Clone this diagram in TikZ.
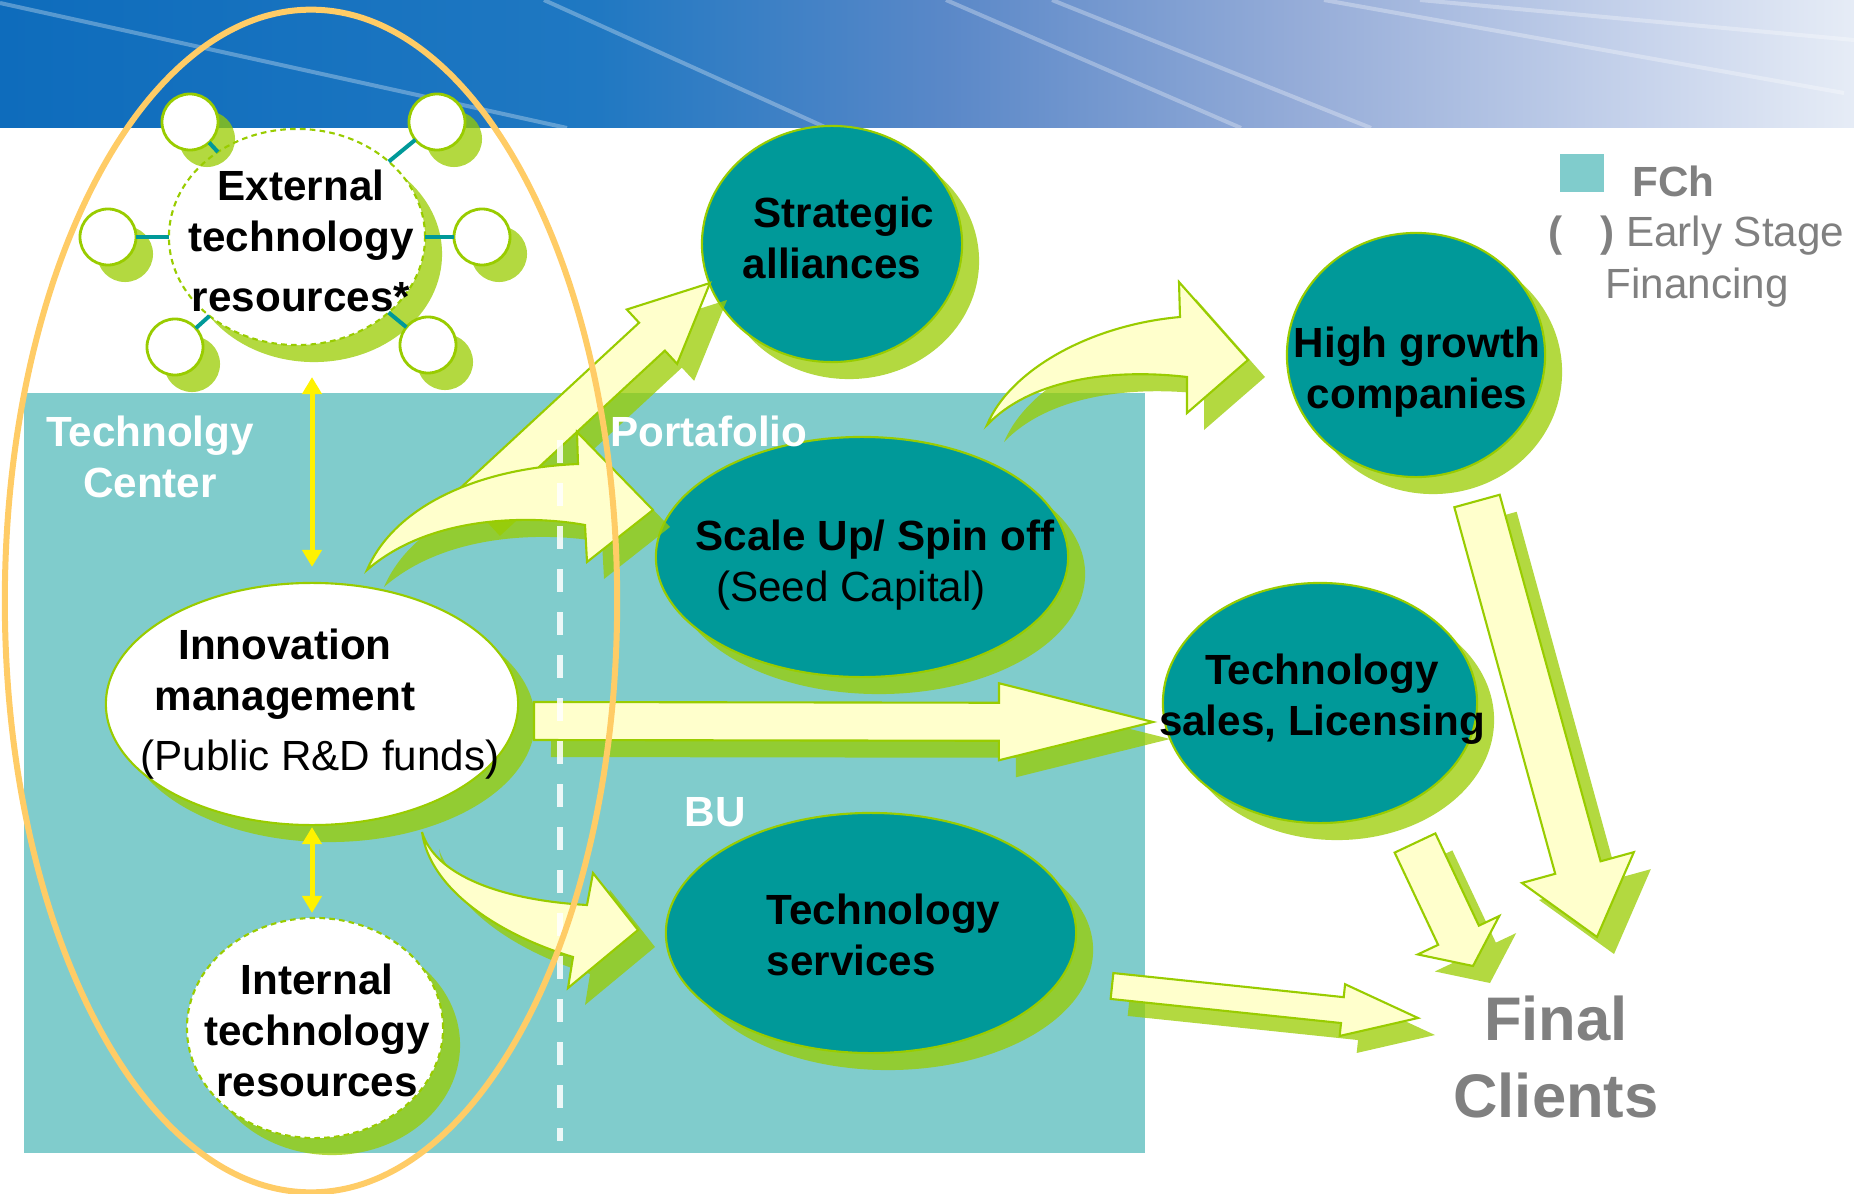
\documentclass[tikz,border=0pt]{standalone}
\usepackage{fontspec}
\setmainfont{Liberation Sans}
\usetikzlibrary{shapes.geometric,shadows,calc,arrows.meta}

\definecolor{fchteal}{HTML}{009999}
\definecolor{fchlight}{HTML}{80CCCC}
\definecolor{leaf}{HTML}{99CC00}
\definecolor{cream}{HTML}{FFFFCC}
\definecolor{amber}{HTML}{FFCC66}
\definecolor{greytxt}{HTML}{808080}
\definecolor{bannerA}{HTML}{0E6CBC}
\definecolor{bannerB}{HTML}{1F78C2}
\definecolor{bannerC}{HTML}{5A88C8}
\definecolor{bannerD}{HTML}{95ACD8}
\definecolor{bannerE}{HTML}{C8D4EC}
\definecolor{bannerF}{HTML}{E6ECF6}

\pgfdeclarehorizontalshading{bannershade}{100bp}{color(0bp)=(bannerA); color(25bp)=(bannerA);
  color(41bp)=(bannerB); color(50.5bp)=(bannerC); color(60bp)=(bannerD);
  color(69.5bp)=(bannerE); color(75bp)=(bannerF); color(100bp)=(bannerF)}

% block shape with its green shadow
\newcommand{\shadedblock}[1]{%
  \fill[arrowshadow,transform canvas={shift={(0.17cm,-0.17cm)}}] #1;
  \filldraw[arrowbody] #1;}
% straight block arrow: tail, tip, shaft half width, head half width, head length
\newcommand{\straightblock}[5]{%
  \coordinate (hb) at ($(#2)!#5!(#1)$);
  \shadedblock{($(#1)!#3!90:(#2)$) -- ($(hb)!#3!90:(#2)$) -- ($(hb)!#4!90:(#2)$) -- (#2)
    -- ($(hb)!#4!-90:(#2)$) -- ($(hb)!#3!-90:(#2)$) -- ($(#1)!#3!-90:(#2)$) -- cycle}}

\begin{document}
\begin{tikzpicture}[x=0.01cm,y=-0.01cm,
  oval/.style={ellipse,draw=leaf,line width=0.6pt,inner sep=0pt,outer sep=0pt,
    drop shadow={shadow xshift=0.17cm,shadow yshift=-0.17cm,fill=leaf,opacity=0.75}},
  tealoval/.style={oval,fill=fchteal},
  whiteoval/.style={oval,fill=white},
  dashedoval/.style={whiteoval,dash pattern=on 1.6pt off 1.2pt},
  satellite/.style={circle,fill=white,draw=leaf,line width=0.8pt,minimum size=0.56cm,
    inner sep=0pt,outer sep=0pt,
    drop shadow={shadow xshift=0.17cm,shadow yshift=-0.17cm,fill=leaf,opacity=0.75}},
  spoke/.style={fchteal,line width=0.04cm},
  boldlabel/.style={font=\fontsize{12}{14.5}\selectfont\bfseries,align=center,inner sep=0pt},
  plainlabel/.style={font=\fontsize{12}{14.5}\selectfont,inner sep=0pt},
  arealabel/.style={boldlabel,text=white},
  legendtext/.style={text=greytxt,inner sep=0pt,font=\fontsize{12}{14.5}\selectfont},
  updown/.style={draw=yellow,line width=0.05cm,>={Triangle[width=0.19cm,length=0.17cm]},<->},
  arrowbody/.style={fill=cream,draw=leaf,line width=0.6pt},
  arrowshadow/.style={fill=leaf,opacity=0.75},
  streak/.style={white,opacity=0.3,line width=0.04cm},
  ring/.style={draw=amber,line width=0.06cm}]
\useasboundingbox (0,0) rectangle (1854,1194);

% banner
\shade[shading=bannershade] (0,0) rectangle (1854,128);
\begin{scope}
  \clip (0,0) rectangle (1854,128);
  \foreach \xa/\ya/\xb/\yb in {0/3/567/128, 544/0/827/128, 946/0/1241/128,
      1052/0/1371/128, 1324/0/1844/93, 1420/0/1854/40}
    \draw[streak] (\xa,\ya) -- (\xb,\yb);
\end{scope}

% FCh area
\fill[fchlight] (24,393) rectangle (1145,1153);

% legend
\node[fill=fchlight,minimum width=0.44cm,minimum height=0.37cm,inner sep=0pt] (fchkey) at (1582,173) {};
\node[legendtext,font=\fontsize{12}{14.5}\selectfont\bfseries,anchor=west] (fch) at (1632,181) {FCh};
\node[legendtext,anchor=west] (early) at (1548,236) {\textbf{(}\hspace{10.7pt}\textbf{)} Early Stage};
\node[legendtext,anchor=west] (fin) at (1605,288) {Financing};

% technology center side
\node[dashedoval,minimum width=2.56cm,minimum height=2.16cm] (ext) at (297,237) {};
\foreach \i/\x/\y in {1/190/122, 2/437/122, 3/108/237, 4/482/237, 5/175/347, 6/428/345}
  \node[satellite] (sat\i) at (\x,\y) {};
\foreach \i in {1,...,6}
  \draw[spoke] (sat\i) -- (ext);
\node[whiteoval,minimum width=4.12cm,minimum height=2.42cm] (innov) at (312,704) {};
\node[dashedoval,minimum width=2.56cm,minimum height=2.2cm] (int) at (315,1028) {};

% outcomes
\node[tealoval,minimum width=2.6cm,minimum height=2.36cm] (ally) at (832,244) {};
\node[tealoval,minimum width=4.12cm,minimum height=2.4cm] (scale) at (862,557) {};
\node[tealoval,minimum width=4.1cm,minimum height=2.4cm] (serv) at (871,933) {};
\node[tealoval,minimum width=3.14cm,minimum height=2.4cm] (sales) at (1320,703) {};
\node[tealoval,minimum width=2.58cm,minimum height=2.44cm] (high) at (1416,355) {};

% block arrows
\coordinate (allyTail) at (470,505);   \coordinate (allyTip) at (710,283);
\coordinate (salesTail) at (534,721);  \coordinate (salesTip) at (1153,722);
\coordinate (clientTailA) at (1112,986); \coordinate (clientTipA) at (1418,1018);
\coordinate (clientTailB) at (1415,843); \coordinate (clientTipB) at (1473,966);
\coordinate (clientTailC) at (1477,501); \coordinate (clientTipC) at (1597,937);

\straightblock{allyTail}{allyTip}{0.19cm}{0.37cm}{0.79cm}
\shadedblock{(367,570) .. controls (395,505) and (480,468) .. (578,464) -- (577,432) -- (653,510)
  -- (587,562) -- (585,525) .. controls (530,515) and (430,515) .. (367,570) -- cycle}
\shadedblock{(987,425) .. controls (1010,370) and (1090,325) .. (1180,317) -- (1179,282) -- (1248,360)
  -- (1187,413) -- (1187,377) .. controls (1110,368) and (1030,380) .. (987,425) -- cycle}
\straightblock{salesTail}{salesTip}{0.19cm}{0.385cm}{1.54cm}
\shadedblock{(422,832) .. controls (435,875) and (500,900) .. (587,905) -- (593,873) -- (638,930)
  -- (568,988) -- (573,957) .. controls (500,935) and (430,890) .. (422,832) -- cycle}
\straightblock{clientTailA}{clientTipA}{0.13cm}{0.26cm}{0.76cm}
\straightblock{clientTailB}{clientTipB}{0.225cm}{0.45cm}{0.34cm}
\straightblock{clientTailC}{clientTipC}{0.235cm}{0.58cm}{0.72cm}

% portfolio / BU divider
\draw[white,opacity=0.85,line width=0.06cm,dash pattern=on 0.23cm off 0.2cm] (560,440) -- (560,1141);

% texts
\node[boldlabel] (ext-t) at (301,241) {External\\technology\\[2.8pt]resources*};
\node[boldlabel] (innov-t) at (285,674) {Innovation\\management};
\node[plainlabel] (innov-f) at (320,760) {(Public R\&D funds)};
\node[boldlabel] (int-t) at (317,1030) {Internal\\technology\\resources};
\node[boldlabel] (ally-t) at (832,238) {\hspace*{0.24cm}Strategic\\alliances};
\node[boldlabel] (scale-t) at (875,540) {Scale Up/ Spin off};
\node[plainlabel] (scale-s) at (851,591) {(Seed Capital)};
\node[boldlabel,align=left,anchor=west] (serv-t) at (766,935) {Technology\\services};
\node[boldlabel] (sales-t) at (1322,699) {Technology\\sales, Licensing};
\node[boldlabel] (high-t) at (1417,372) {High growth\\companies};
\node[arealabel] (center-l) at (150,457) {Technolgy\\Center};
\node[arealabel] (port-l) at (709,431) {Portafolio};
\node[arealabel] (bu-l) at (715,812) {BU};
\node[boldlabel,text=greytxt,font=\fontsize{17.5}{22}\selectfont\bfseries] (clients) at (1556,1057) {Final\\Clients};

% technology center boundary
\draw[ring] (311,601) ellipse [x radius=3.06cm, y radius=5.91cm];

% links to innovation management
\draw[updown,shorten <=0.32cm,shorten >=0.16cm] (ext.south -| innov.north) -- (innov.north);
\draw[updown,shorten <=0.02cm,shorten >=0.05cm] (innov.south) -- (innov.south |- int.north);
\end{tikzpicture}
\end{document}
